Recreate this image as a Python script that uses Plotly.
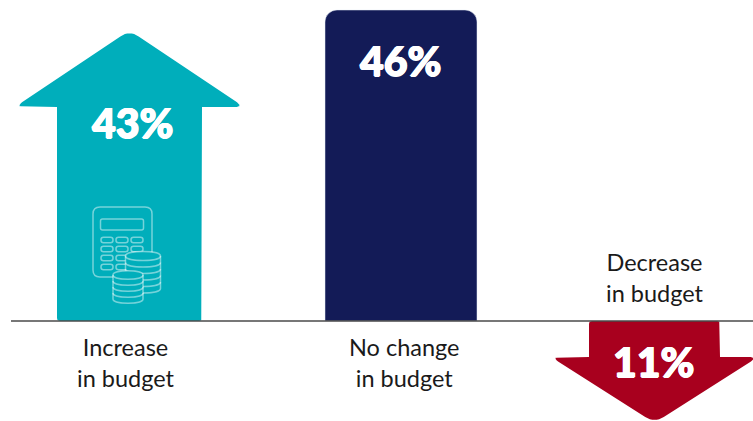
import plotly.graph_objects as go

W, H = 753, 421
BASE_PY = 321  # pixel row of the zero line

# Survey results
categories = ["Increase<br>in budget", "No change<br>in budget", "Decrease<br>in budget"]
values = [43, 46, -11]
value_labels = ["43%", "46%", "11%"]

TEAL = "#00AEBB"
NAVY = "#131B57"
RED = "#A8001E"
ICON = "rgba(255,255,255,0.46)"
FONT = "Lato"

UP_SCALE = 311 / 46    # px per percentage point above the zero line
DOWN_SCALE = 102 / 11  # px per percentage point on the lower arrow's axis


def py_of(v, scale):
    return BASE_PY - v * scale


def rounded(points, radius):
    """Round the corners of a closed polygon given in pixels with short quadratic arcs."""
    out = []
    n = len(points)
    for i, ((x, y), r) in enumerate(zip(points, radius)):
        if r == 0:
            out.append((x, y))
            continue
        px, py = points[i - 1]
        nx, ny = points[(i + 1) % n]
        d1 = ((px - x) ** 2 + (py - y) ** 2) ** 0.5
        d2 = ((nx - x) ** 2 + (ny - y) ** 2) ** 0.5
        a = (x + (px - x) * r / d1, y + (py - y) * r / d1)
        b = (x + (nx - x) * r / d2, y + (ny - y) * r / d2)
        for k in range(9):
            t = k / 8
            out.append((
                (1 - t) ** 2 * a[0] + 2 * t * (1 - t) * x + t ** 2 * b[0],
                (1 - t) ** 2 * a[1] + 2 * t * (1 - t) * y + t ** 2 * b[1],
            ))
    return out


def arrow_trace(cx, value, shaft, head, neck_py, scale, color, yaxis):
    """Filled arrow from the zero line to `value`; the tip sits on the value."""
    tip = py_of(value, scale)
    wing = neck_py + (3 if value < 0 else -3)
    pts = [
        (cx - shaft, BASE_PY), (cx - shaft, neck_py), (cx - head, neck_py),
        (cx - head, wing), (cx, tip), (cx + head, wing), (cx + head, neck_py),
        (cx + shaft, neck_py), (cx + shaft, BASE_PY),
    ]
    radii = [3, 0, 3, 3, 11, 3, 3, 0, 3]
    outline = rounded(pts, radii)
    return go.Scatter(
        x=[p[0] for p in outline],
        y=[(BASE_PY - p[1]) / scale for p in outline],
        mode="lines", fill="toself", fillcolor=color, line=dict(width=0),
        hoverinfo="skip", showlegend=False, yaxis=yaxis,
    )


fig = go.Figure()
fig.add_trace(arrow_trace(129.5, values[0], 72.5, 110, 107, UP_SCALE, TEAL, "y"))
fig.add_bar(
    x=[401], y=[values[1]], width=[152], marker=dict(color=NAVY, cornerradius=12),
    hoverinfo="skip", showlegend=False,
)
fig.add_trace(arrow_trace(654.5, values[2], 65.5, 99, 357, DOWN_SCALE, RED, "y2"))


def pap_x(x):
    return x / W


def pap_y(y):
    return 1 - y / H


def path_rrect(x0, y0, x1, y1, r):
    X, Y = pap_x, pap_y
    return (
        f"M{X(x0 + r)},{Y(y0)} L{X(x1 - r)},{Y(y0)} Q{X(x1)},{Y(y0)} {X(x1)},{Y(y0 + r)} "
        f"L{X(x1)},{Y(y1 - r)} Q{X(x1)},{Y(y1)} {X(x1 - r)},{Y(y1)} "
        f"L{X(x0 + r)},{Y(y1)} Q{X(x0)},{Y(y1)} {X(x0)},{Y(y1 - r)} "
        f"L{X(x0)},{Y(y0 + r)} Q{X(x0)},{Y(y0)} {X(x0 + r)},{Y(y0)} Z"
    )


def icon_shape(path, fill="rgba(0,0,0,0)"):
    fig.add_shape(
        type="path", path=path, xref="paper", yref="paper", layer="above",
        line=dict(color=ICON, width=1.5), fillcolor=fill,
    )


def coin_stack(cx, rx, ry, top, rings, gap):
    """Stack of coins drawn as an elliptical top with curved bands below it."""
    X, Y = pap_x, pap_y
    k = 1.33
    bottom = top + rings * gap
    body = (
        f"M{X(cx - rx)},{Y(top)} C{X(cx - rx)},{Y(top - k * ry)} {X(cx + rx)},{Y(top - k * ry)} {X(cx + rx)},{Y(top)} "
        f"L{X(cx + rx)},{Y(bottom)} C{X(cx + rx)},{Y(bottom + k * ry)} {X(cx - rx)},{Y(bottom + k * ry)} {X(cx - rx)},{Y(bottom)} Z"
    )
    icon_shape(body, TEAL)
    for i in range(rings):
        y = top + i * gap
        icon_shape(
            f"M{X(cx - rx)},{Y(y)} C{X(cx - rx)},{Y(y + k * ry)} {X(cx + rx)},{Y(y + k * ry)} {X(cx + rx)},{Y(y)}"
        )


# Calculator with coins on the increase arrow
icon_shape(path_rrect(93, 207, 152, 277, 7))
icon_shape(path_rrect(100.5, 219, 143.5, 230, 2))
for row_y in (240, 249, 258, 267):
    for col_x in (101, 116, 131):
        icon_shape(path_rrect(col_x, row_y - 2.7, col_x + 12, row_y + 2.7, 2.5))
coin_stack(143, 17.5, 4.5, 256, 5, 6.5)
coin_stack(128, 15, 4.2, 275, 4, 6)

# Zero line
fig.add_shape(
    type="line", xref="paper", yref="paper", layer="above",
    x0=pap_x(11), x1=1, y0=pap_y(BASE_PY), y1=pap_y(BASE_PY),
    line=dict(color="#4A4A4A", width=1.6),
)

# Category captions
for text, x, y in zip(categories, (126, 404, 655), (362.5, 362.5, 277)):
    fig.add_annotation(
        text=text, x=pap_x(x), y=pap_y(y), xref="paper", yref="paper", showarrow=False,
        xanchor="center", yanchor="middle", align="center",
        font=dict(family=FONT, size=23.5, color="#1A1A1A"),
    )

# Percentages inside the marks, thickened with a tight white shadow
HEAVY = "0.7px 0 0 white, -0.7px 0 0 white, 0 0.5px 0 white, 0 -0.5px 0 white"
for text, x, y in zip(value_labels, (132, 400, 653), (122, 60, 361)):
    fig.add_annotation(
        text=text, x=pap_x(x), y=pap_y(y), xref="paper", yref="paper", showarrow=False,
        xanchor="center", yanchor="middle",
        font=dict(family=FONT, size=41, color="white", weight=900, shadow=HEAVY),
    )

fig.update_layout(
    width=W, height=H, margin=dict(l=0, r=0, t=0, b=0, pad=0),
    paper_bgcolor="white", plot_bgcolor="white", showlegend=False,
    xaxis=dict(range=[0, W], visible=False, fixedrange=True),
    yaxis=dict(range=[(BASE_PY - H) / UP_SCALE, BASE_PY / UP_SCALE], visible=False, fixedrange=True),
    yaxis2=dict(
        range=[(BASE_PY - H) / DOWN_SCALE, BASE_PY / DOWN_SCALE], visible=False,
        fixedrange=True, overlaying="y",
    ),
)

fig.write_html("out.html")
